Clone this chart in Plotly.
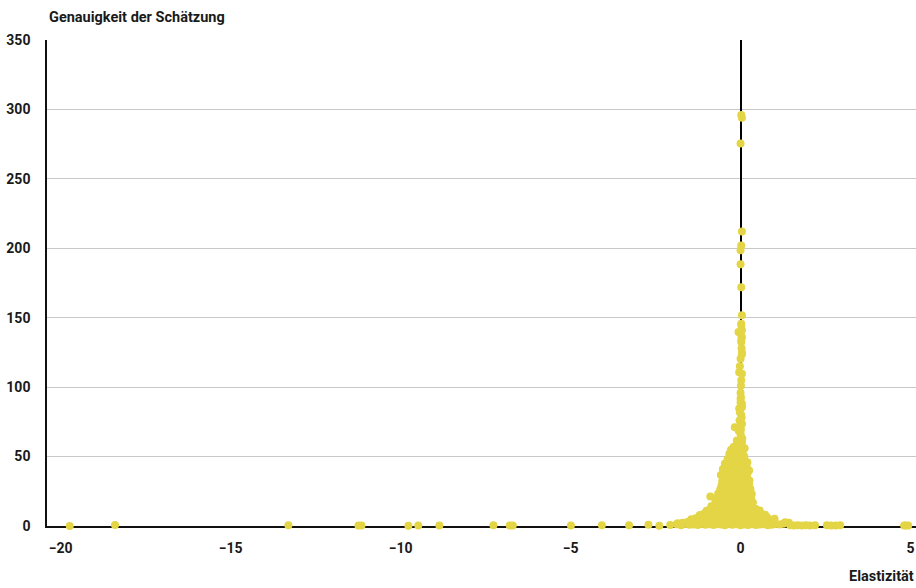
import plotly.graph_objects as go

# --- Daten ---
elastizitaet = [
    # Grundlinie
    -19.73, -18.40, -13.30, -11.24, -11.15, -9.77, -9.48, -8.86, -7.27, -6.79, -6.70, -4.99, -4.08, -3.28,
    -2.71, -2.39, -2.07, -1.88, -1.75, -1.62, -1.50, -1.38, -1.26, -1.15, -1.03, -0.92, -0.80, -0.69,
    -0.57, -0.46, -0.35, -0.24, -0.12, 0.00, 0.11, 0.22, 0.34, 0.45, 0.57, 0.68, 0.80, 0.92, 1.03, 1.15,
    1.26, 1.46, 1.57, 1.68, 1.80, 1.92, 2.04, 2.19, 2.54, 2.67, 2.80, 2.93, 4.81, 4.86, 4.93,
    # ~3
    -1.85, -1.70, -1.56, -1.42, -1.30, -1.18, -1.06, -0.95, -0.84, -0.72, -0.62, -0.50, -0.40, -0.29,
    -0.18, -0.07, 0.04, 0.15, 0.26, 0.38, 0.50, 0.62, 0.75, 0.88, 1.00, 1.31, 1.42,
    # ~5.5
    -1.45, -1.32, -1.20, -1.08, -0.96, -0.85, -0.74, -0.63, -0.52, -0.41, -0.30, -0.20, -0.10, 0.00,
    0.10, 0.21, 0.32, 0.43, 0.55, 0.67, 0.78, 1.00,
    # ~8.5
    -1.20, -1.08, -0.97, -0.87, -0.77, -0.66, -0.55, -0.45, -0.35, -0.25, -0.15, -0.05, 0.05, 0.15,
    0.26, 0.37, 0.48, 0.60, 0.72,
    # ~11.5
    -1.00, -0.90, -0.79, -0.68, -0.58, -0.48, -0.38, -0.28, -0.18, -0.08, 0.02, 0.12, 0.22, 0.33, 0.45, 0.56,
    # ~14.5
    -0.86, -0.76, -0.66, -0.56, -0.46, -0.36, -0.26, -0.16, -0.06, 0.04, 0.14, 0.24, 0.34,
    # ~17.5
    -0.74, -0.64, -0.54, -0.44, -0.34, -0.24, -0.14, -0.04, 0.06, 0.16, 0.26, 0.36,
    # ~20.5
    -0.89, -0.69, -0.59, -0.49, -0.39, -0.29, -0.19, -0.09, 0.01, 0.11, 0.21, 0.31,
    # ~23.5
    -0.66, -0.56, -0.46, -0.36, -0.26, -0.16, -0.06, 0.04, 0.14, 0.24, 0.33,
    # ~26.5
    -0.60, -0.50, -0.40, -0.30, -0.20, -0.10, 0.00, 0.10, 0.20, 0.29,
    # ~29.5
    -0.56, -0.46, -0.36, -0.26, -0.16, -0.06, 0.04, 0.14, 0.25,
    # ~32.5
    -0.54, -0.44, -0.34, -0.24, -0.14, -0.04, 0.06, 0.16, 0.26,
    # ~35.5
    -0.51, -0.41, -0.31, -0.21, -0.11, -0.01, 0.09, 0.19,
    # ~38.5
    -0.48, -0.38, -0.28, -0.18, -0.08, 0.02, 0.12, 0.21,
    # ~41.5
    -0.42, -0.32, -0.22, -0.12, -0.02, 0.08, 0.18,
    # ~44.5
    -0.34, -0.24, -0.14, -0.04, 0.06, 0.16,
    # ~47.5
    -0.28, -0.18, -0.08, 0.02, 0.12,
    # ~50.5
    -0.27, -0.17, -0.07, 0.03, 0.11,
    # ~53
    -0.28, -0.10, 0.00, 0.06,
    # Ergänzung Trichterrand
    -0.58, -0.52, -0.46, -0.38, -0.33, -0.20, 0.12, 0.20, 0.25,
    # Spitze
    0.04, -0.11, 0.02, 0.00, -0.17, 0.04, -0.03, 0.02, -0.04, 0.04, 0.04, 0.00, 0.00, 0.01, 0.01, 0.04,
    -0.04, 0.00, 0.04, 0.04, 0.02, 0.02, 0.04, 0.00, -0.06, 0.04, 0.02, 0.02, 0.04, 0.02, 0.00, 0.00,
    0.02, 0.04, 0.00, 0.04, 0.02,
    # Säule
    0.02, -0.02, 0.05, -0.05, 0.01, 0.03, -0.02, 0.00, 0.02, -0.02, 0.03,
]

genauigkeit = [
    # Grundlinie
    0.0, 0.7, 0.5, 0.4, 0.3, 0.2, 0.4, 0.3, 0.5, 0.3, 0.3, 0.4, 0.5, 0.6,
    0.9, 0.2, 0.8, 1.2, 0.6, 1.5, 0.9, 1.1, 0.7, 1.4, 0.9, 1.2, 0.8, 1.3,
    1.0, 0.6, 1.4, 0.9, 1.2, 0.5, 1.1, 0.8, 1.3, 0.7, 1.0, 1.2, 0.6, 0.9, 1.4, 1.1,
    1.6, 0.5, 0.4, 0.6, 0.3, 0.5, 0.4, 0.6, 0.5, 0.4, 0.3, 0.5, 0.3, 0.4, 0.3,
    # ~3
    1.9, 2.3, 2.8, 3.4, 3.0, 3.6, 2.9, 3.5, 3.2, 3.8, 3.1, 3.6, 2.9, 3.4,
    3.7, 3.0, 3.5, 3.2, 3.6, 2.9, 3.3, 3.0, 2.7, 3.2, 2.8, 2.7, 2.4,
    # ~5.5
    4.8, 5.6, 5.2, 6.0, 5.5, 6.2, 5.4, 6.0, 5.6, 6.3, 5.3, 5.9, 6.4, 5.5,
    6.1, 5.7, 6.2, 5.4, 5.9, 5.6, 6.3, 5.3,
    # ~8.5
    8.0, 8.8, 8.3, 9.1, 8.6, 9.4, 8.2, 9.0, 8.7, 9.5, 8.4, 9.2, 8.9, 9.6,
    8.5, 9.1, 8.3, 8.9, 8.1,
    # ~11.5
    11.0, 11.8, 11.3, 12.1, 11.5, 12.3, 11.2, 12.0, 11.6, 12.4, 11.4, 12.2, 11.7, 12.3, 12.3, 11.1,
    # ~14.5
    14.2, 15.0, 14.5, 15.3, 14.1, 14.9, 15.4, 14.3, 15.1, 14.6, 15.2, 14.4, 14.8,
    # ~17.5
    17.2, 18.0, 17.5, 18.3, 17.1, 17.9, 18.4, 17.3, 18.1, 17.6, 18.2, 17.0,
    # ~20.5
    21.3, 20.2, 21.0, 20.5, 21.3, 20.1, 20.9, 21.4, 20.3, 21.1, 20.6, 20.4,
    # ~23.5
    23.2, 24.0, 23.5, 24.3, 23.1, 23.9, 24.4, 23.3, 24.1, 23.6, 23.0,
    # ~26.5
    26.2, 27.0, 26.5, 27.3, 26.1, 26.9, 27.4, 26.3, 27.1, 26.6,
    # ~29.5
    29.2, 30.0, 29.5, 30.3, 29.1, 29.9, 30.4, 29.3, 30.1,
    # ~32.5
    32.2, 33.0, 32.5, 33.3, 32.1, 32.9, 33.4, 32.3, 32.8,
    # ~35.5
    35.2, 36.0, 35.5, 36.3, 35.1, 35.9, 36.4, 35.3,
    # ~38.5
    38.2, 39.0, 38.5, 39.3, 38.1, 38.9, 39.4, 38.6,
    # ~41.5
    41.2, 42.0, 41.5, 42.3, 41.1, 41.9, 42.4,
    # ~44.5
    44.2, 45.0, 44.5, 45.3, 44.1, 44.9,
    # ~47.5
    47.2, 48.0, 47.5, 48.3, 47.1,
    # ~50.5
    50.2, 51.0, 50.5, 51.3, 50.1,
    # ~53
    55.0, 53.2, 54.4, 52.8,
    # Ergänzung Trichterrand
    36.8, 41.0, 45.0, 48.2, 52.0, 57.0, 56.0, 46.0, 40.0,
    # Spitze
    60.4, 61.6, 64.0, 66.4, 71.2, 73.6, 76.0, 80.0, 84.6, 85.6, 88.0, 89.0, 91.6, 92.8, 101.0, 109.6,
    110.8, 120.4, 123.6, 125.0, 132.5, 134.0, 136.0, 138.5, 139.7, 141.0, 144.5, 145.7, 151.7, 172.0, 188.5, 198.6,
    202.0, 212.0, 275.5, 294.0, 296.0,
    # Säule
    57.5, 58.8, 63.0, 68.5, 69.5, 78.0, 82.0, 96.0, 105.0, 115.0, 128.0,
]

y_ticks = [0, 50, 100, 150, 200, 250, 300, 350]
x_ticks = [-20, -15, -10, -5, 0, 5]

y_titel = "Genauigkeit der Schätzung"
x_titel = "Elastizität"

n = min(len(elastizitaet), len(genauigkeit))

FONT = "Roboto"
TXT = "#1a1a1a"

fig = go.Figure()
fig.add_trace(go.Scatter(
    x=elastizitaet[:n], y=genauigkeit[:n], mode="markers",
    marker=dict(size=8, color="#e3d545", line=dict(width=0)),
    cliponaxis=False, hoverinfo="x+y",
))

fig.update_layout(
    width=916, height=588,
    margin=dict(l=47, r=0, t=40, b=62, autoexpand=False),
    paper_bgcolor="white", plot_bgcolor="white",
    showlegend=False,
    font=dict(family=FONT, color=TXT),
    xaxis=dict(
        range=[-20.4, 5.16], tickvals=x_ticks,
        ticktext=["<b>" + ("\u2212" + str(-v) if v < 0 else str(v)) + "</b>" for v in x_ticks],
        showgrid=False, zeroline=True, zerolinecolor="#000000", zerolinewidth=1.5,
        showline=True, linecolor="#111111", linewidth=1.5, layer="below traces",
        ticks="", tickfont=dict(size=14, family=FONT, color=TXT), ticklabelstandoff=8,
        automargin=False,
    ),
    yaxis=dict(
        range=[0, 350], tickvals=y_ticks, ticktext=["<b>" + str(v) + "</b>" for v in y_ticks],
        showgrid=True, gridcolor="#c8c8c8", gridwidth=1, zeroline=False,
        showline=True, linecolor="#111111", linewidth=1.5, layer="below traces",
        ticks="", tickfont=dict(size=14, family=FONT, color=TXT), ticklabelstandoff=12,
        automargin=False,
    ),
    annotations=[
        dict(text="<b>" + y_titel + "</b>", xref="paper", yref="paper", x=0, y=1,
             xanchor="left", yanchor="middle", yshift=23, showarrow=False,
             font=dict(size=14.5, family=FONT, color=TXT)),
        dict(text="<b>" + x_titel + "</b>", xref="paper", yref="paper", x=1, y=0,
             xanchor="right", yanchor="middle", yshift=-50, showarrow=False,
             font=dict(size=14.5, family=FONT, color=TXT)),
    ],
)

fig.write_html("out.html", config={"displayModeBar": False},
               post_script="document.body.style.margin='0';")
